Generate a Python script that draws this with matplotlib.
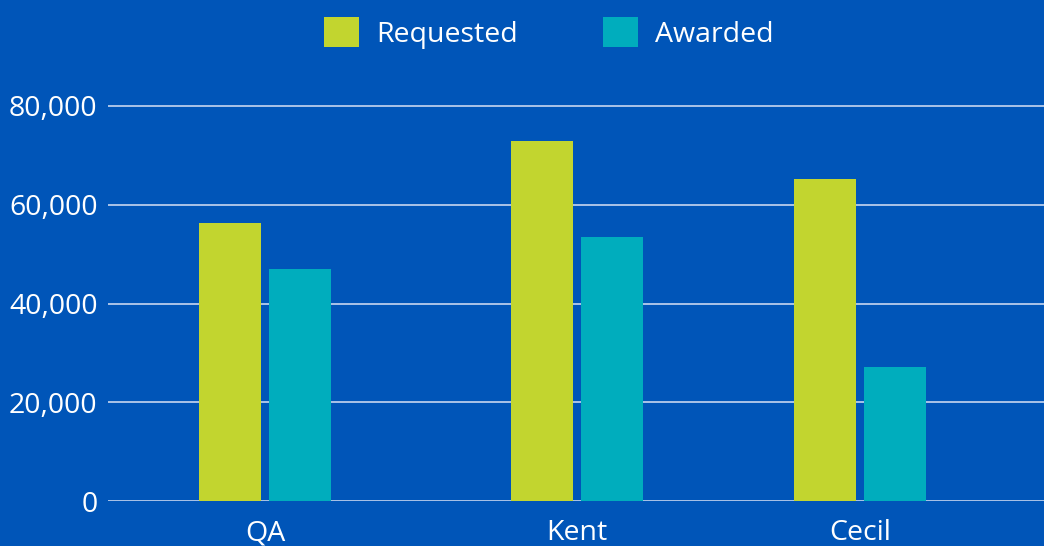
import matplotlib
matplotlib.use("Agg")
import matplotlib.pyplot as plt
import numpy as np

categories = ["QA", "Kent", "Cecil"]
requested = [56300, 72900, 65200]
awarded = [47000, 53500, 27100]

# layout: group centres in category units (the source spacing is uneven)
group_pos = [0.503, 1.503, 2.41]
bar_w = 0.2
offset = 0.112

BG = "#0055b8"
C_REQ = "#c2d52f"
C_AWD = "#00adbd"

plt.rcParams["font.family"] = ["Open Sans", "DejaVu Sans"]

W, H = 1044, 546
fig = plt.figure(figsize=(W / 100, H / 100), dpi=100, facecolor=BG)
left, right = 108, 1044
y0 = 501
px_per = (501 - 106) / 80000
top = y0 - 84000 * px_per
ax = fig.add_axes([left / W, 1 - y0 / H, (right - left) / W, (y0 - top) / H])
ax.set_facecolor(BG)

x = np.array(group_pos)
ax.bar(x - offset, requested, width=bar_w, color=C_REQ, label="Requested", zorder=3)
ax.bar(x + offset, awarded, width=bar_w, color=C_AWD, label="Awarded", zorder=3)

ticks = [0, 20000, 40000, 60000, 80000]
ax.set_xlim(0, 3.0)
ax.set_ylim(0, 84000)
ax.set_yticks(ticks)
ax.set_yticklabels([f"{v:,}" for v in ticks])
ax.set_xticks(x)
ax.set_xticklabels(categories)
ax.tick_params(axis="both", length=0, colors="white", labelsize=20.5)
ax.tick_params(axis="y", pad=7.5)
ax.tick_params(axis="x", pad=13)
ax.grid(axis="y", color="#c8d6f0", linewidth=1.2, zorder=1)
for s in ax.spines.values():
    s.set_visible(False)

fig.legend(loc="center", bbox_to_anchor=(549 / W, 1 - 33 / H), ncol=2,
           frameon=False, fontsize=20.5, labelcolor="white",
           handlelength=1.23, handleheight=1.23, handletextpad=0.6,
           columnspacing=3.0)

fig.savefig("out.png", dpi=100, facecolor=BG)
